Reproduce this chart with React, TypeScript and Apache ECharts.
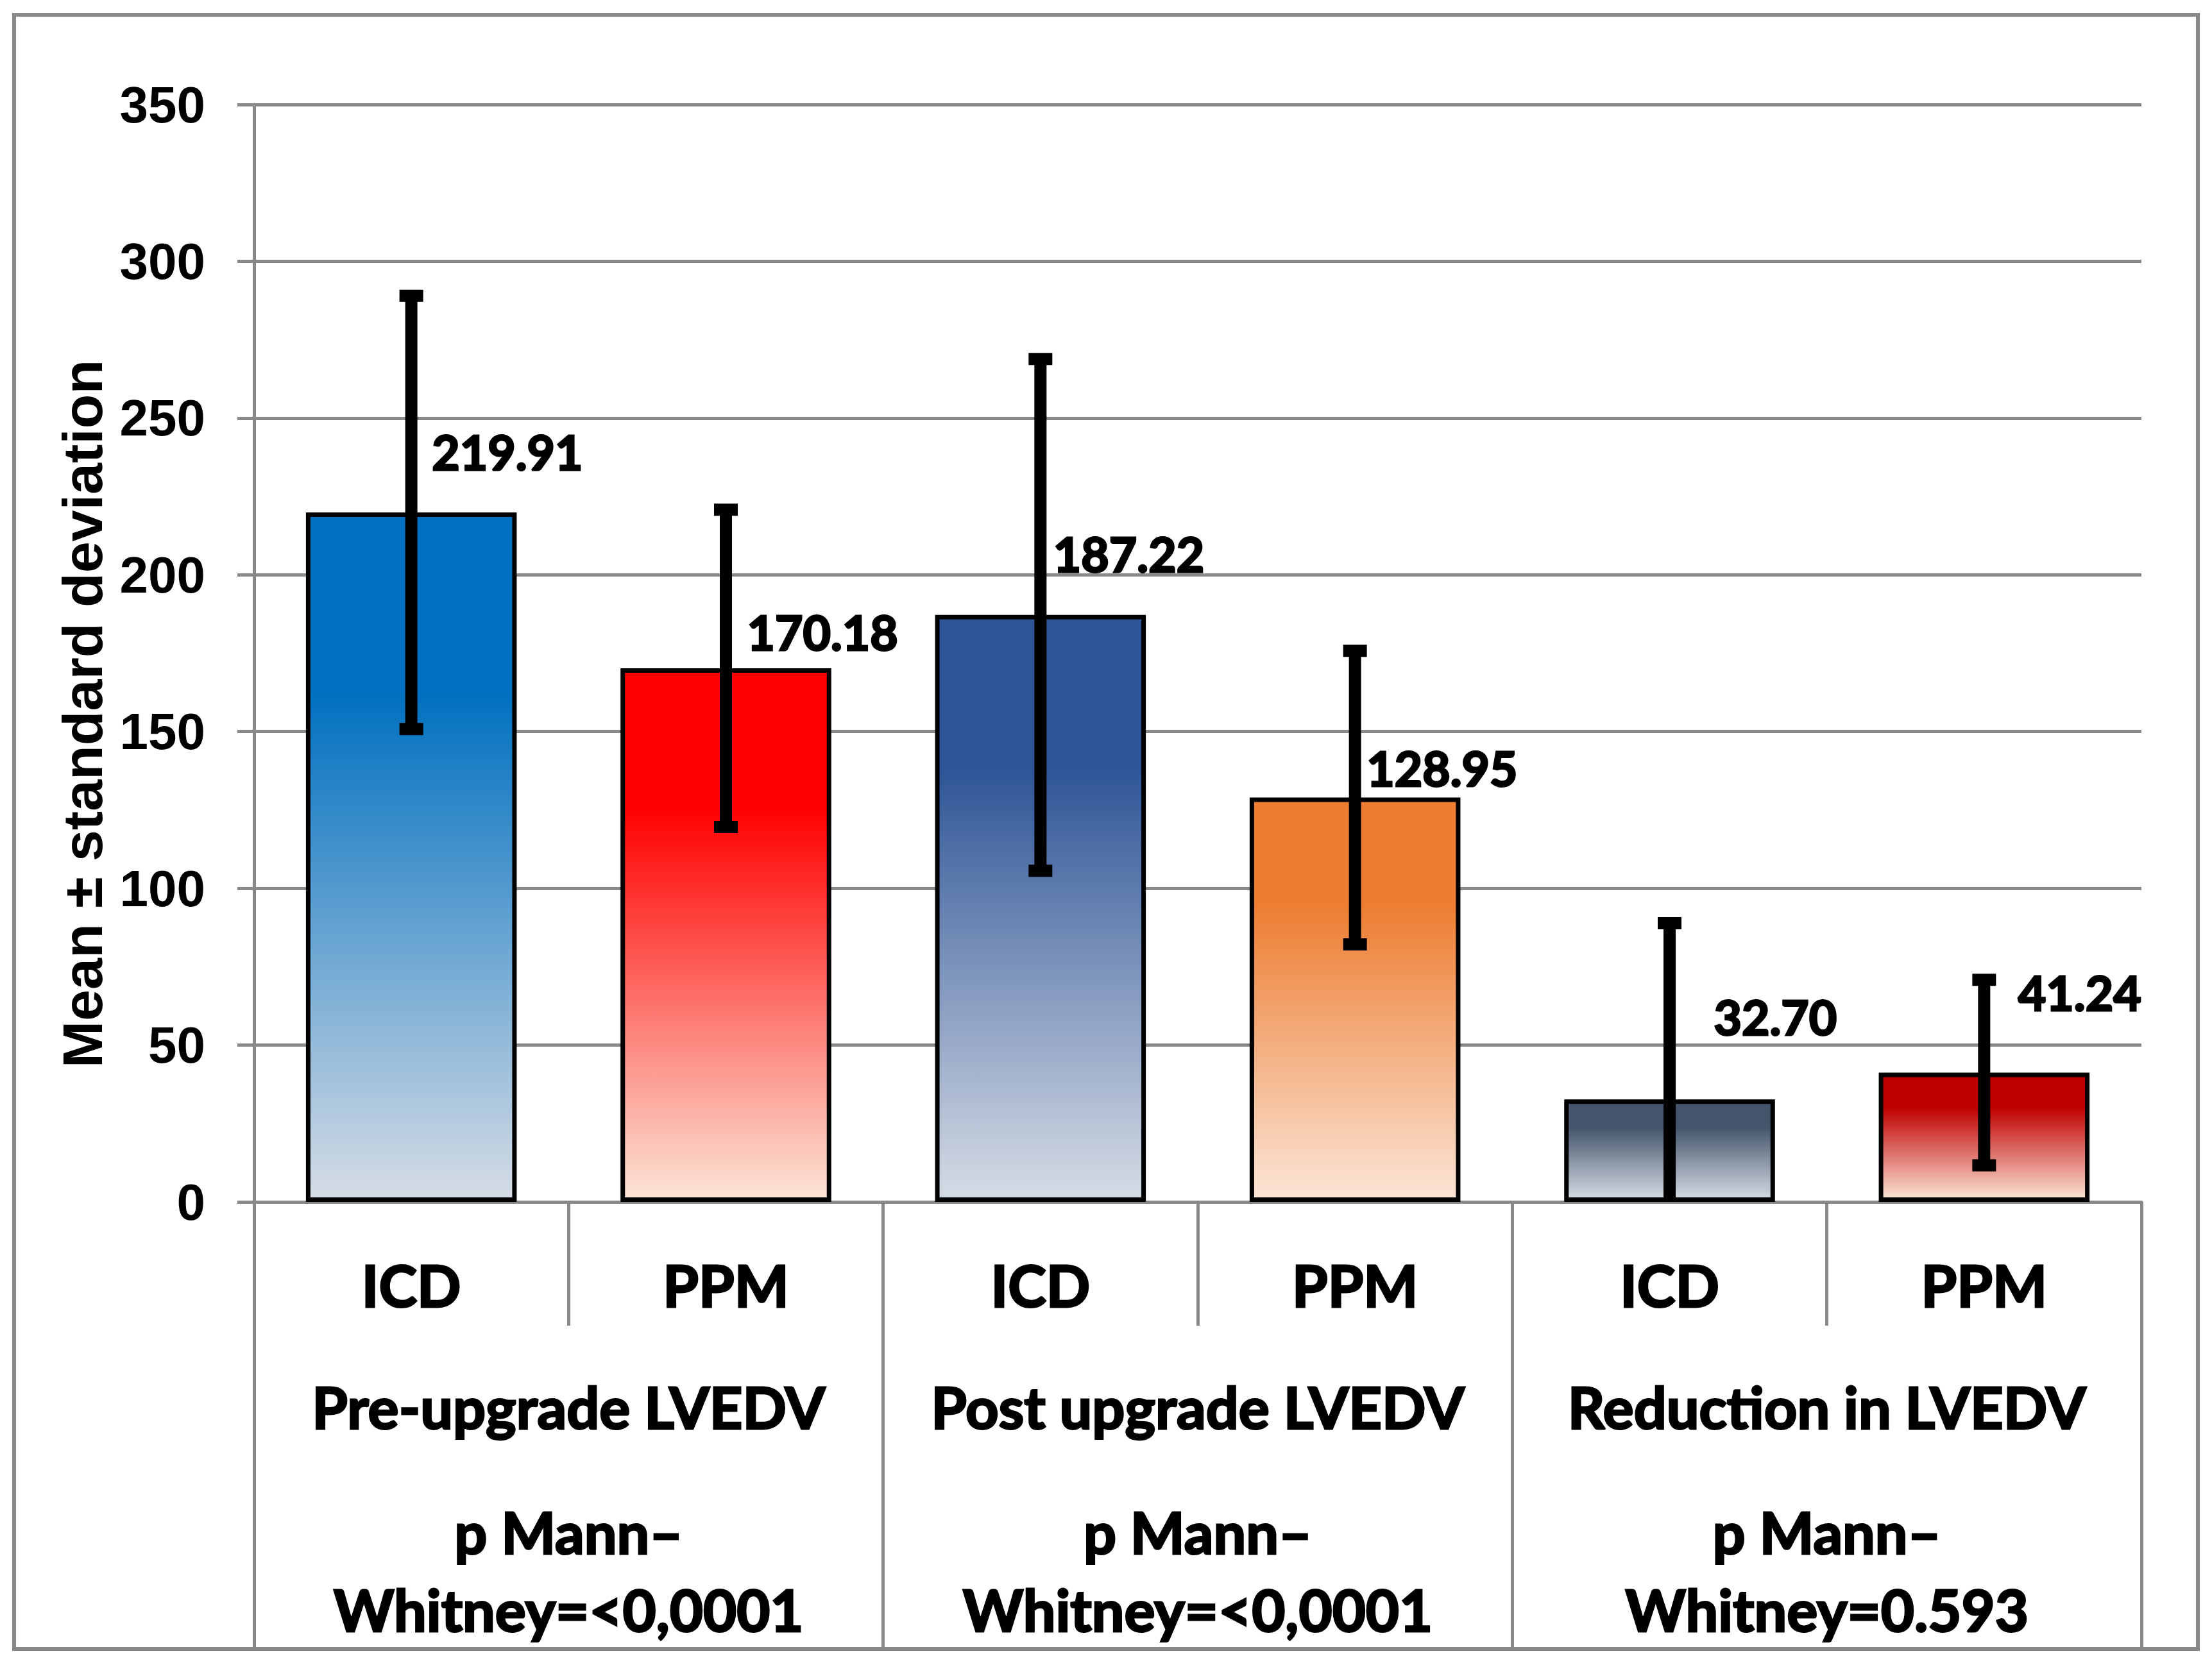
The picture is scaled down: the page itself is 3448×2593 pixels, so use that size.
import * as echarts from 'echarts';
import { useEffect, useRef } from 'react';

// categories
const devices = ['ICD', 'PPM', 'ICD', 'PPM', 'ICD', 'PPM'];
const groups = ['Pre-upgrade LVEDV', 'Post upgrade LVEDV', 'Reduction in LVEDV'];
const pValues = ['<0,0001', '<0,0001', '0.593'];

// series values (mean ± SD)
const means = [219.91, 170.18, 187.22, 128.95, 32.7, 41.24];
const sds = [69.1, 50.6, 81.6, 46.8, 56.2, 29.6];

// y axis ticks
const yMin = 0;
const yMax = 350;
const yStep = 50;

// bar styling
const topColors = ['#0070C0', '#FF0000', '#2F5597', '#ED7D31', '#44546A', '#C00000'];
const bottomColors = ['#D6DCE5', '#FBE5D6', '#D6DCE5', '#FBE5D6', '#D6DCE5', '#FBE5D6'];
const labelOffsets = [
  [32, -95],
  [33, -57],
  [20, -96],
  [18, -47],
  [69, -129],
  [53, -125],
];

const GRAY = '#898989';
const CALIBRI = 'Lato, "Noto Sans", sans-serif';
const ARIAL = '"Liberation Sans", Arial, sans-serif';

// heavier strokes so Lato reads like Calibri bold
const heavy = { textBorderColor: '#000', textBorderWidth: 3 };

const App = () => {
  const chartRef = useRef<HTMLDivElement>(null);

  useEffect(() => {
    if (!chartRef.current) return;

    const chart = echarts.init(chartRef.current, null, { renderer: 'svg' });

    const option = {
      animation: false,
      backgroundColor: '#ffffff',
      grid: {
        bottom: 719,
        containLabel: false,
        left: 396,
        right: 110,
        top: 163,
      },
      graphic: [
        {
          type: 'rect',
          shape: { x: 22, y: 23, width: 3404, height: 2548 },
          style: { fill: 'none', stroke: GRAY, lineWidth: 6 },
          z: 0,
        },
        {
          type: 'text',
          x: 128,
          y: 1113,
          rotation: Math.PI / 2,
          style: {
            text: 'Mean ± standard deviation',
            font: `bold 88px ${ARIAL}`,
            fill: '#000',
            align: 'center',
            verticalAlign: 'middle',
          },
        },
      ],
      xAxis: [
        {
          type: 'category',
          data: devices,
          position: 'bottom',
          axisLine: { show: true, lineStyle: { color: GRAY, width: 5 } },
          axisTick: {
            show: true,
            interval: 0,
            length: 193,
            lineStyle: { color: GRAY, width: 5 },
          },
          axisLabel: {
            interval: 0,
            margin: 84,
            color: '#000',
            fontFamily: CALIBRI,
            fontWeight: 'bold',
            fontSize: 90,
            lineHeight: 90,
            ...heavy,
          },
        },
        {
          type: 'category',
          data: groups,
          position: 'bottom',
          offset: 0,
          axisLine: { show: false },
          axisTick: {
            show: true,
            interval: 0,
            length: 697,
            lineStyle: { color: GRAY, width: 5 },
          },
          axisLabel: {
            interval: 0,
            margin: 184,
            color: '#000',
            formatter: (value: string, index: number) =>
              `{g|${value}}\n{p|p Mann–}\n{p|Whitney=${pValues[index]}}`,
            rich: {
              g: {
                fontFamily: CALIBRI,
                fontWeight: 'bold',
                fontSize: 90,
                lineHeight: 269,
                color: '#000',
                ...heavy,
              },
              p: {
                fontFamily: CALIBRI,
                fontWeight: 'bold',
                fontSize: 90,
                lineHeight: 121,
                color: '#000',
                ...heavy,
              },
            },
          },
        },
      ],
      yAxis: {
        type: 'value',
        min: yMin,
        max: yMax,
        interval: yStep,
        axisLine: { show: true, lineStyle: { color: GRAY, width: 5 } },
        axisTick: { show: true, length: 26, lineStyle: { color: GRAY, width: 5 } },
        axisLabel: {
          margin: 76,
          color: '#000',
          fontFamily: ARIAL,
          fontWeight: 'bold',
          fontSize: 80,
        },
        splitLine: { show: true, lineStyle: { color: GRAY, width: 5 } },
      },
      series: [
        {
          type: 'bar',
          xAxisIndex: 0,
          barWidth: '67%',
          data: means.map((m, i) => ({
            value: m,
            itemStyle: {
              color: {
                type: 'linear',
                x: 0,
                y: 0,
                x2: 0,
                y2: 1,
                colorStops: [
                  { offset: 0, color: topColors[i] },
                  { offset: 0.26, color: topColors[i] },
                  { offset: 1, color: bottomColors[i] },
                ],
              },
              borderColor: '#000',
              borderWidth: 7,
            },
            label: { offset: labelOffsets[i] },
          })),
          label: {
            show: true,
            position: ['50%', 0],
            align: 'left',
            verticalAlign: 'middle',
            color: '#000',
            fontFamily: CALIBRI,
            fontWeight: 'bold',
            fontSize: 75,
            ...heavy,
            formatter: (p: { value: number }) => p.value.toFixed(2),
          },
          z: 2,
        },
        {
          type: 'custom',
          xAxisIndex: 0,
          data: means.map((m, i) => [i, m, sds[i]]),
          encode: { x: 0, y: 1 },
          z: 3,
          // eslint-disable-next-line @typescript-eslint/no-explicit-any
          renderItem: (_params: any, api: any) => {
            const idx = api.value(0);
            const mean = api.value(1);
            const sd = api.value(2);
            const low = mean - sd;
            const top = api.coord([idx, mean + sd]);
            const bottom = api.coord([idx, Math.max(low, yMin)]);
            const children: object[] = [
              {
                type: 'line',
                shape: { x1: top[0], y1: top[1], x2: bottom[0], y2: bottom[1] },
                style: { stroke: '#000', lineWidth: 19 },
              },
              {
                type: 'rect',
                shape: { x: top[0] - 18.5, y: top[1] - 9.5, width: 37, height: 19 },
                style: { fill: '#000' },
              },
            ];
            if (low >= yMin) {
              children.push({
                type: 'rect',
                shape: { x: bottom[0] - 18.5, y: bottom[1] - 9.5, width: 37, height: 19 },
                style: { fill: '#000' },
              });
            }
            return { type: 'group', children };
          },
        },
      ],
    };

    chart.setOption(option);

    return () => {
      chart.dispose();
    };
  }, []);

  return (
    <div
      ref={chartRef}
      style={{ position: 'absolute', left: 0, top: 0, width: 3448, height: 2593, background: '#fff' }}
    />
  );
};

export default App;
